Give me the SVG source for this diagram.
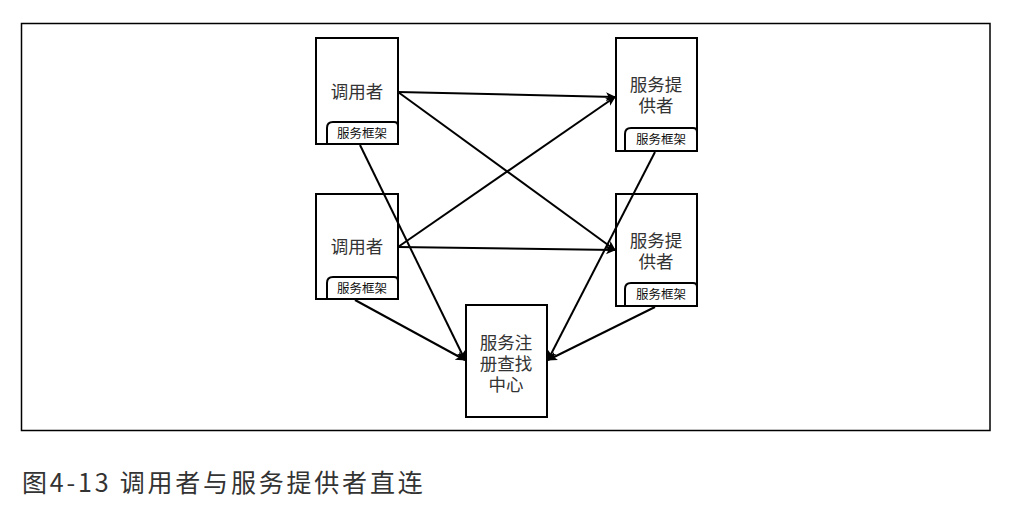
<svg xmlns="http://www.w3.org/2000/svg" width="1014" height="506" viewBox="0 0 1014 506">
<defs>
<marker id="arr" viewBox="0 0 10 10" refX="9" refY="5" markerWidth="10" markerHeight="10" markerUnits="userSpaceOnUse" orient="auto">
<path d="M0,0.5 L10,5 L0,9.5 L2.5,5 Z" fill="#000"/>
</marker>
<style>
.box{fill:#fff;stroke:#000;stroke-width:2}
.sub{fill:#fff;stroke:#000;stroke-width:2}
.lbl{font-family:"Noto Sans CJK SC","Noto Sans",sans-serif;font-size:17.5px;fill:#333;text-anchor:middle}
.sl{font-family:"Noto Sans CJK SC","Noto Sans",sans-serif;font-size:12.5px;fill:#111;text-anchor:middle}
.con{stroke:#000;stroke-width:2;fill:none;marker-end:url(#arr)}
.cap{font-family:"Noto Sans CJK SC","Noto Sans",sans-serif;font-size:25px;fill:#333;letter-spacing:2.8px}
</style>
</defs>
<rect width="1014" height="506" fill="#fff"/>
<rect x="21.5" y="23.5" width="968.5" height="407" fill="none" stroke="#000" stroke-width="1.5"/>

<g id="caller1">
<rect class="box" x="316" y="38" width="82" height="106"/>
<text class="lbl" x="357" y="98">调用者</text>
<path class="sub" d="M327,144 V128 Q327,122 333,122 H394 Q398,122 398,126 V144 Z"/>
<text class="sl" x="362" y="138">服务框架</text>
</g>

<g id="caller2">
<rect class="box" x="316" y="194" width="82" height="105"/>
<text class="lbl" x="357" y="253">调用者</text>
<path class="sub" d="M327,299 V283 Q327,277 333,277 H394 Q398,277 398,281 V299 Z"/>
<text class="sl" x="362" y="293">服务框架</text>
</g>

<g id="provider1">
<rect class="box" x="616" y="38" width="81" height="113"/>
<text class="lbl" x="656" y="91">服务提<tspan x="656" dy="21">供者</tspan></text>
<path class="sub" d="M625,151 V134 Q625,128 631,128 H693 Q697,128 697,132 V151 Z"/>
<text class="sl" x="661" y="144">服务框架</text>
</g>

<g id="provider2">
<rect class="box" x="616" y="194" width="81" height="112"/>
<text class="lbl" x="656" y="247">服务提<tspan x="656" dy="21">供者</tspan></text>
<path class="sub" d="M625,306 V289 Q625,283 631,283 H693 Q697,283 697,287 V306 Z"/>
<text class="sl" x="661" y="299">服务框架</text>
</g>

<g id="registry">
<rect class="box" x="466" y="305" width="81" height="112"/>
<text class="lbl" x="506" y="349">服务注<tspan x="506" dy="21">册查找</tspan><tspan x="506" dy="21">中心</tspan></text>
</g>

<g id="connectors">
<line class="con" x1="398" y1="92" x2="615" y2="97"/>
<line class="con" x1="398" y1="92" x2="615" y2="250"/>
<line class="con" x1="398" y1="247" x2="615" y2="97"/>
<line class="con" x1="398" y1="247" x2="615" y2="250"/>
<line class="con" x1="360" y1="145" x2="465" y2="360"/>
<line class="con" x1="355" y1="300" x2="465" y2="360"/>
<line class="con" x1="655" y1="152" x2="548" y2="360"/>
<line class="con" x1="655" y1="307" x2="548" y2="360"/>
</g>

<text class="cap" x="22" y="492">图4-13 调用者与服务提供者直连</text>
</svg>
